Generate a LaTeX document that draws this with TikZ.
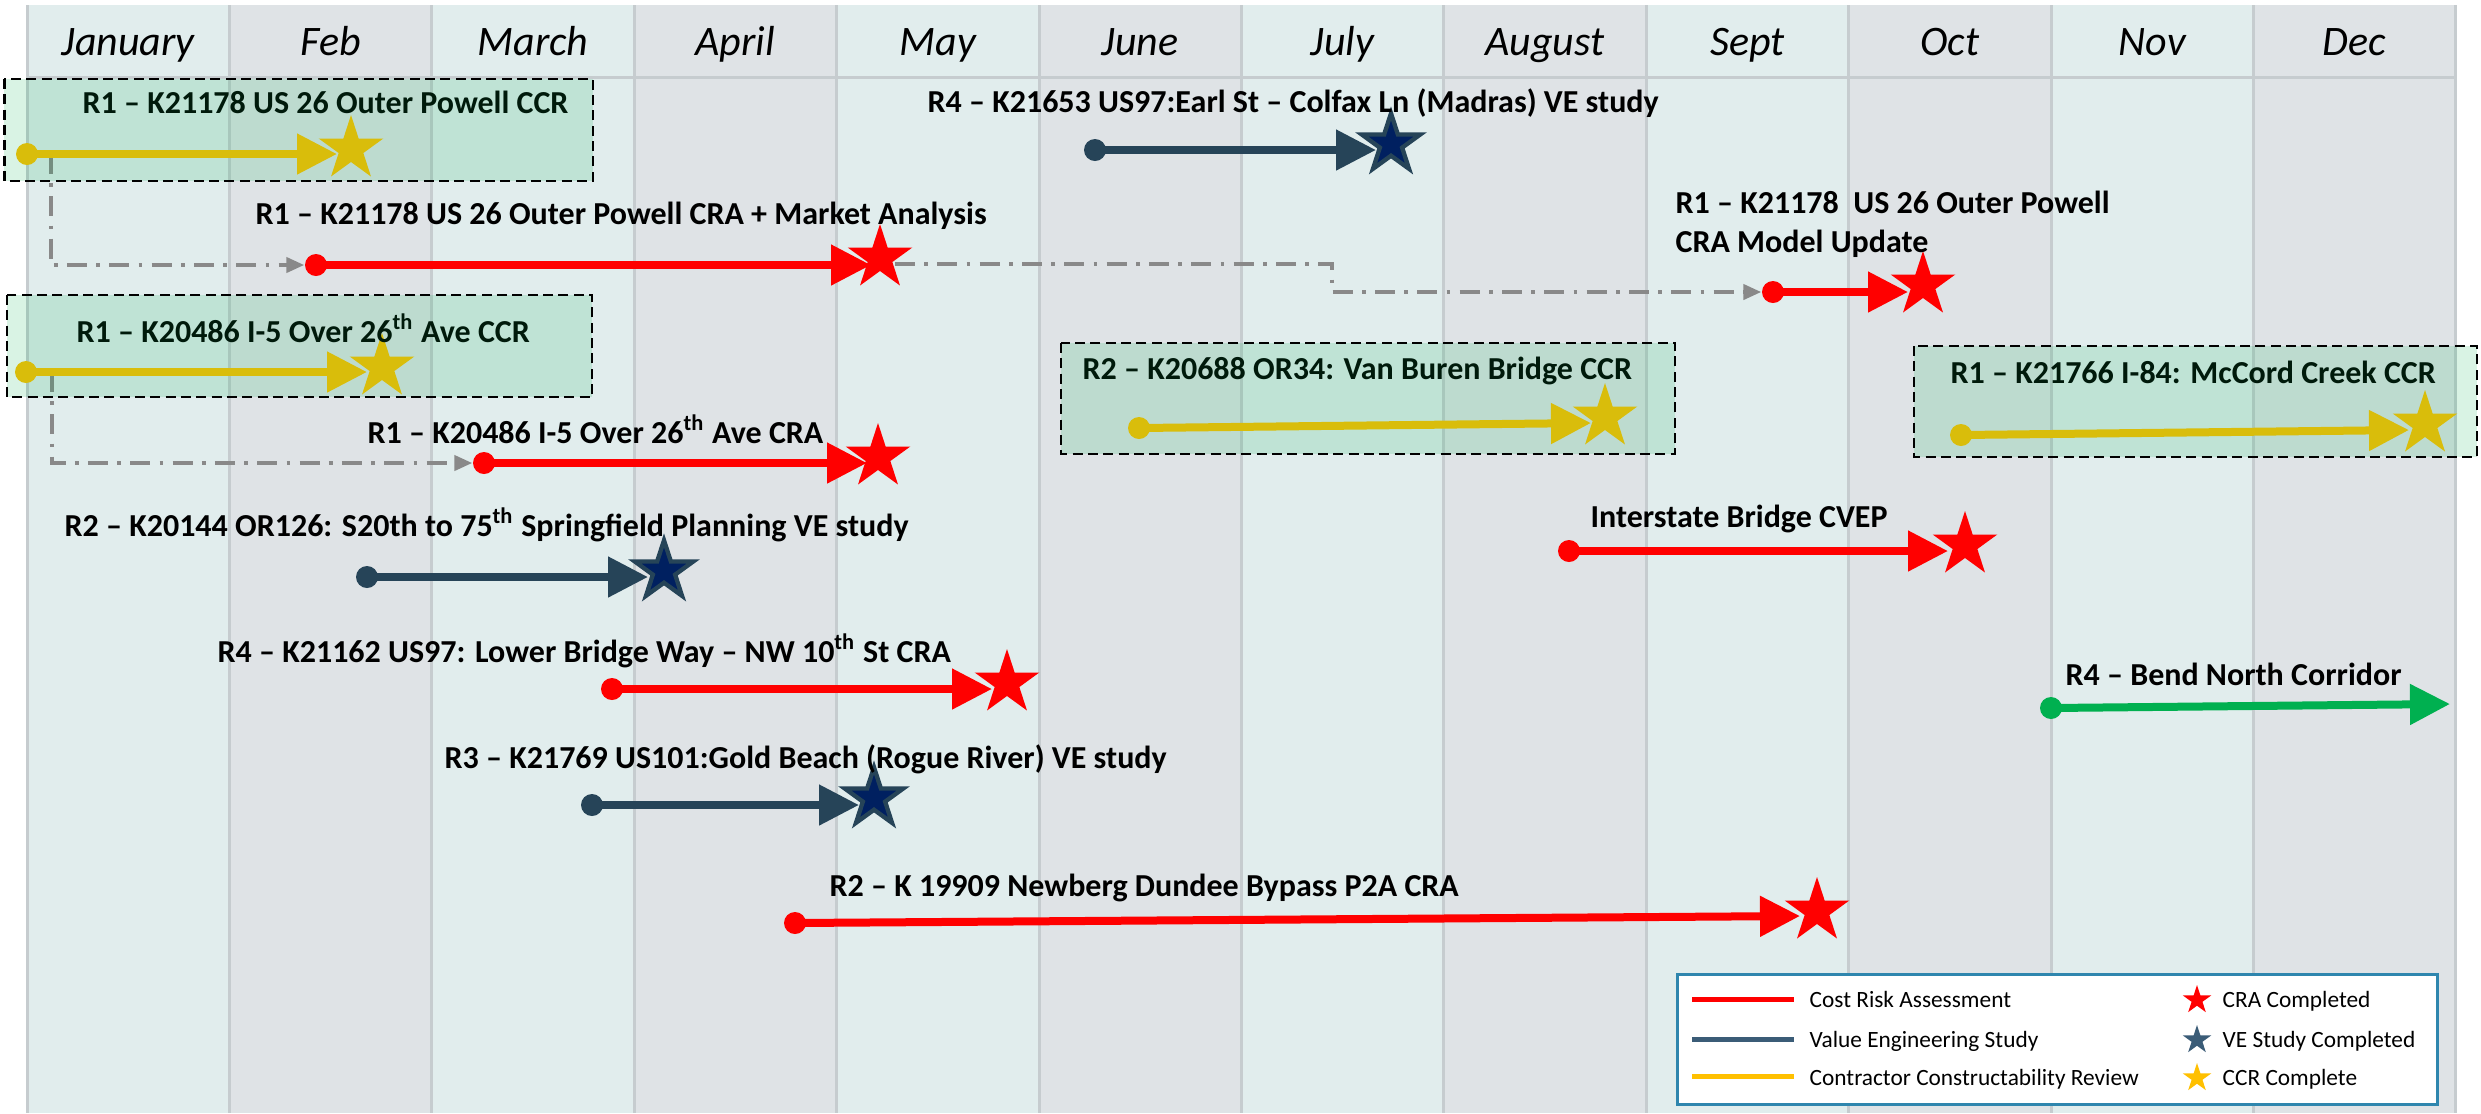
\documentclass[tikz,border=0pt]{standalone}
\usepackage{fontspec}
\setmainfont{Carlito}
\usetikzlibrary{arrows.meta,shapes.geometric}
\definecolor{colA}{HTML}{E1EDED}
\definecolor{colB}{HTML}{DFE3E6}
\definecolor{gridc}{HTML}{C6CCCF}
\definecolor{craRed}{HTML}{FF0000}
\definecolor{veSlate}{HTML}{264458}
\definecolor{veNavy}{HTML}{002060}
\definecolor{ccrGold}{HTML}{FFC000}
\definecolor{bendGreen}{HTML}{00B050}
\definecolor{connGrey}{HTML}{898989}
\definecolor{legBlue}{HTML}{2F86AE}
\definecolor{legSlate}{HTML}{3B5C77}
\begin{document}
\begin{tikzpicture}[x=0.3pt,y=-0.3pt,
  month/.style={font=\fontsize{12.6}{14}\selectfont\itshape, anchor=base, inner sep=0pt},
  lbl/.style={font=\fontsize{9.6}{11}\selectfont\bfseries, anchor=base west, inner sep=0pt},
  legtxt/.style={font=\fontsize{7}{8}\selectfont, anchor=base west, inner sep=0pt},
  dot/.style={circle, fill=#1, minimum size=6.6pt, inner sep=0pt},
  bar/.style={draw=#1, line width=2.4pt, -{Triangle[length=12pt,width=11.7pt]}},
  conn/.style={draw=connGrey, line width=1.2pt, dash pattern=on 6pt off 2.8pt on 1.1pt off 2.8pt, -{Triangle[length=5.4pt,width=4.5pt]}},
  starshape/.style={star, star points=5, star point ratio=2.618, inner sep=0pt},
  fullstar/.style={starshape, minimum size=20.4pt, fill=#1},
  vestar/.style={starshape, minimum size=18.4pt, fill=veNavy, draw=veSlate, line width=1.3pt},
  legstar/.style={starshape, minimum size=9pt, fill=#1},
  grpbox/.style={draw=black, line width=0.8pt, dash pattern=on 3pt off 1.6pt, fill=bendGreen, fill opacity=0.15},
  legline/.style={draw=#1, line width=1.5pt}
]
\useasboundingbox (0,0) rectangle (2481,1113);
\fill[white] (0,0) rectangle (2481,1113);
% grid
\foreach \i in {0,...,11} {
  \pgfmathsetmacro\xa{27+\i*202.4}
  \pgfmathsetmacro\xb{27+(\i+1)*202.4}
  \ifodd\i \def\cc{colB}\else\def\cc{colA}\fi
  \fill[\cc] (\xa,5) rectangle (\xb,1113);
}
\foreach \i in {0,...,12} \draw[gridc, line width=0.9pt] ({27+\i*202.4},5) -- ({27+\i*202.4},1113);
\draw[gridc, line width=0.9pt] (27,77) -- (2456,77);
\foreach \m [count=\i from 0] in {January,Feb,March,April,May,June,July,August,Sept,Oct,Nov,Dec}
  \node[month] (m\i) at ({27+(\i+0.5)*202.4},55) {\m};

% dots
\node[dot=ccrGold] (dA) at (27,154) {};
\node[dot=craRed] (d2) at (316,265) {};
\node[dot=veSlate] (d3) at (1095,150) {};
\node[dot=craRed] (d4) at (1773,292) {};
\node[dot=ccrGold] (dB) at (26,372) {};
\node[dot=craRed] (d6) at (484,463) {};
\node[dot=veSlate] (d7) at (367,577) {};
\node[dot=craRed] (d8) at (612,689) {};
\node[dot=veSlate] (d9) at (592,805) {};
\node[dot=craRed] (d10) at (795,923) {};
\node[dot=ccrGold] (dC) at (1139,428) {};
\node[dot=ccrGold] (dD) at (1961,435) {};
\node[dot=craRed] (d14) at (1569,551) {};
\node[dot=bendGreen] (d15) at (2051,708) {};

% end points
\coordinate (eA) at (337,154);
\coordinate (e2) at (871,265);
\coordinate (e3) at (1376,150);
\coordinate (e4) at (1908,292);
\coordinate (eB) at (367,372);
\coordinate (e6) at (867,463);
\coordinate (e7) at (648,577);
\coordinate (e8) at (992,689);
\coordinate (e9) at (859,805);
\coordinate (e10) at (1800,916);
\coordinate (eC) at (1591,423);
\coordinate (eD) at (2409,430);
\coordinate (e14) at (1948,551);
\coordinate (e15) at (2450,704);

% dependency connectors
\coordinate (gA) at (51,154);
\coordinate (gB) at (52,372);
\coordinate (g2a) at (895,264);
\coordinate (g2b) at (1332,264);
\draw[conn] (gA) |- (d2);
\draw[conn] (gB) |- (d6);
\draw[conn] (g2a) -- (g2b) |- (d4);

% bars
\draw[bar=ccrGold] (dA.center) -- (eA);
\draw[bar=craRed] (d2.center) -- (e2);
\draw[bar=veSlate] (d3.center) -- (e3);
\draw[bar=craRed] (d4.center) -- (e4);
\draw[bar=ccrGold] (dB.center) -- (eB);
\draw[bar=craRed] (d6.center) -- (e6);
\draw[bar=veSlate] (d7.center) -- (e7);
\draw[bar=craRed] (d8.center) -- (e8);
\draw[bar=veSlate] (d9.center) -- (e9);
\draw[bar=craRed] (d10.center) -- (e10);
\draw[bar=ccrGold] (dC.center) -- (eC);
\draw[bar=ccrGold] (dD.center) -- (eD);
\draw[bar=craRed] (d14.center) -- (e14);
\draw[bar=bendGreen] (d15.center) -- (e15);

% stars
\node[fullstar=ccrGold] (sA) at (351,149) {};
\node[fullstar=craRed] (s2) at (880,258) {};
\node[vestar] (s3) at (1391,144) {};
\node[fullstar=craRed] (s4) at (1923,285) {};
\node[fullstar=ccrGold] (sB) at (382,367) {};
\node[fullstar=craRed] (s6) at (878,457) {};
\node[vestar] (s7) at (664,571) {};
\node[fullstar=craRed] (s8) at (1007,683) {};
\node[vestar] (s9) at (874,798) {};
\node[fullstar=craRed] (s10) at (1817,911) {};
\node[fullstar=ccrGold] (sC) at (1605,417) {};
\node[fullstar=ccrGold] (sD) at (2425,424) {};
\node[fullstar=craRed] (s14) at (1965,545) {};

% labels
\node[lbl] (lA) at (82,113) {R1 – K21178 US 26 Outer Powell CCR};
\node[lbl] (l2) at (255,224) {R1 – K21178 US 26 Outer Powell CRA + Market Analysis};
\node[lbl] (l3) at (927,112) {R4 – K21653 US97:Earl St – Colfax Ln (Madras) VE study};
\node[lbl] (l4a) at (1675,213) {R1 – K21178\ \ US 26 Outer Powell};
\node[lbl] (l4b) at (1675,252) {CRA Model Update};
\node[lbl] (lB) at (76,342) {R1 – K20486 I-5 Over 26\textsuperscript{th} Ave CCR};
\node[lbl] (l6) at (367,443) {R1 – K20486 I-5 Over 26\textsuperscript{th} Ave CRA};
\node[lbl] (l7) at (64,536) {R2 – K20144 OR126: S20th to 75\textsuperscript{th} Springfield Planning VE study};
\node[lbl] (l8) at (217,662) {R4 – K21162 US97: Lower Bridge Way – NW 10\textsuperscript{th} St CRA};
\node[lbl] (l9) at (444,768) {R3 – K21769 US101:Gold Beach (Rogue River) VE study};
\node[lbl] (l10) at (829,896) {R2 – K 19909 Newberg Dundee Bypass P2A CRA};
\node[lbl] (lC) at (1082,379) {R2 – K20688 OR34: Van Buren Bridge CCR};
\node[lbl] (lD) at (1950,383) {R1 – K21766 I-84: McCord Creek CCR};
\node[lbl] (l14) at (1590,527) {Interstate Bridge CVEP};
\node[lbl] (l15) at (2065,685) {R4 – Bend North Corridor};

% CCR group boxes (translucent, on top)
\path[grpbox] (4.5,79) rectangle (593,181);
\path[grpbox] (7,295) rectangle (592,397);
\path[grpbox] (1061,343) rectangle (1675,454);
\path[grpbox] (1914,346) rectangle (2477,457);

% legend
\draw[legBlue, line width=0.9pt, fill=white] (1677,974) rectangle (2437,1104);
\draw[legline=craRed] (1692,999) -- (1794,999);
\draw[legline=legSlate] (1692,1039) -- (1794,1039);
\draw[legline=ccrGold] (1692,1076) -- (1794,1076);
\node[legtxt] (t1) at (1809,1007) {Cost Risk Assessment};
\node[legtxt] (t2) at (1809,1047) {Value Engineering Study};
\node[legtxt] (t3) at (1809,1085) {Contractor Constructability Review};
\node[legstar=craRed] (ls1) at (2197,1000) {};
\node[legstar=legSlate] (ls2) at (2197,1040) {};
\node[legstar=ccrGold] (ls3) at (2197,1078) {};
\node[legtxt] (t4) at (2222,1007) {CRA Completed};
\node[legtxt] (t5) at (2222,1047) {VE Study Completed};
\node[legtxt] (t6) at (2222,1085) {CCR Complete};
\end{tikzpicture}
\end{document}
